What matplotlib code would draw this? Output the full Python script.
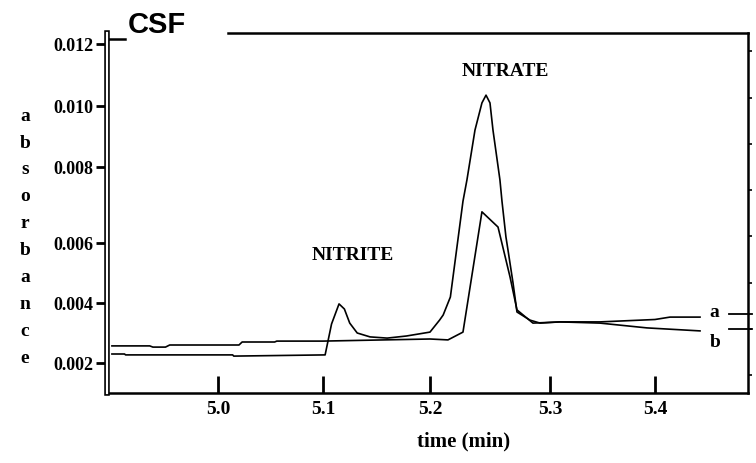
import numpy as np
import matplotlib
matplotlib.use("Agg")
import matplotlib.pyplot as plt

# trace a: nitrite peak + large nitrate peak
time_a = [4.899, 4.911, 4.912, 5.014, 5.015, 5.102, 5.108, 5.115, 5.120, 5.125,
          5.132, 5.144, 5.160, 5.178, 5.200, 5.208, 5.211, 5.217, 5.2275, 5.2308,
          5.2375, 5.2433, 5.2467, 5.250, 5.2525, 5.2583, 5.260, 5.2633, 5.265,
          5.2692, 5.2725, 5.2833, 5.2917, 5.3095, 5.3476, 5.400, 5.4143, 5.4429]
abs_a = [0.00230, 0.00230, 0.00227, 0.00227, 0.00223, 0.00227, 0.00330, 0.00397, 0.00380, 0.00333,
         0.00300, 0.00287, 0.00283, 0.00290, 0.00303, 0.00343, 0.00360, 0.00420, 0.00710, 0.00766,
         0.00921, 0.01010, 0.01035, 0.01010, 0.00921, 0.00766, 0.00710, 0.00616, 0.00577,
         0.00467, 0.00370, 0.00343, 0.00333, 0.00337, 0.00337, 0.00345, 0.00353, 0.00353]

# trace b: flat baseline + smaller nitrate peak
time_b = [4.899, 4.935, 4.938, 4.950, 4.954, 5.020, 5.023, 5.054, 5.056, 5.100,
          5.200, 5.215, 5.2275, 5.2433, 5.2567, 5.2667, 5.2725, 5.2858, 5.3095,
          5.3476, 5.3924, 5.4429]
abs_b = [0.00257, 0.00257, 0.00253, 0.00253, 0.00260, 0.00260, 0.00270, 0.00270, 0.00273, 0.00273,
         0.00280, 0.00277, 0.00303, 0.00682, 0.00642, 0.00487, 0.00377, 0.00333, 0.00337,
         0.00333, 0.00317, 0.00307]

right_marks = [0.00363, 0.00313]

y_ticks = [0.002, 0.004, 0.006, 0.008, 0.010, 0.012]
y_labels = ["0.002", "0.004", "0.006", "0.008", "0.010", "0.012"]
x_ticks = [5.0, 5.1, 5.2, 5.3, 5.4]
x_labels = ["5.0", "5.1", "5.2", "5.3", "5.4"]

# the printed axes are not evenly spaced, so use piecewise scales
y_knots = [0.0, 0.002, 0.004, 0.006, 0.008, 0.010, 0.012, 0.014]
y_place = [40, 100, 160, 220, 296, 357, 419, 481]
x_knots = [4.8, 5.0, 5.1, 5.2, 5.3, 5.4, 5.5]
x_place = [8, 218, 323, 430, 550, 655, 760]

serif = "Liberation Serif"

fig = plt.figure(figsize=(7.56, 4.63), dpi=100)
ax = fig.add_axes([107/756, 1 - 393/463, 641/756, 360/463])

ax.set_xscale("function", functions=(lambda v: np.interp(v, x_knots, x_place),
                                     lambda p: np.interp(p, x_place, x_knots)))
ax.set_yscale("function", functions=(lambda v: np.interp(v, y_knots, y_place),
                                     lambda p: np.interp(p, y_place, y_knots)))

ax.plot(time_a, abs_a, color="black", lw=1.2)
ax.plot(time_b, abs_b, color="black", lw=1.2)

ax.set_xlim(4.8943, 5.4886)
ax.set_ylim(0.001, 0.012355)

ax.set_xticks(x_ticks)
ax.set_xticklabels(x_labels, fontfamily=serif, fontweight="bold", fontsize=14)
ax.set_yticks(y_ticks)
ax.set_yticklabels(y_labels, fontfamily=serif, fontweight="bold", fontsize=13)
ax.minorticks_off()
ax.tick_params(axis="x", direction="in", length=12, width=2, pad=6)
ax.tick_params(axis="y", direction="out", length=8, width=2, pad=1.5)

for side in ["bottom", "right"]:
    ax.spines[side].set_linewidth(1.8)
ax.spines["left"].set_linewidth(4)
ax.spines["top"].set_visible(False)
ax.axvline(4.8943, color="white", lw=1.6, clip_on=False, zorder=5)

# broken top frame around the title
ax.plot([0, 0.028], [0.983, 0.983], color="black", lw=1.8, transform=ax.transAxes, clip_on=False)
ax.plot([0.189, 1.0], [1.0, 1.0], color="black", lw=1.8, transform=ax.transAxes, clip_on=False)

# small ticks on the right edge
ax2 = ax.twinx()
ax2.set_ylim(-0.39, 7.40)
ax2.set_yticks(range(8))
ax2.set_yticklabels([])
ax2.tick_params(axis="y", direction="out", length=3, width=1.2)
for side in ["left", "top", "bottom", "right"]:
    ax2.spines[side].set_visible(False)

for level in right_marks:
    ax.axhline(level, xmin=0.971, xmax=1.007, color="black", lw=1.3, clip_on=False)

ax.text(5.2625, 0.0111, "NITRATE", ha="center", va="center",
        fontfamily=serif, fontweight="bold", fontsize=14)
ax.text(5.128, 0.0056, "NITRITE", ha="center", va="center",
        fontfamily=serif, fontweight="bold", fontsize=14)
ax.text(5.452, 0.0037, "a", ha="left", va="center",
        fontfamily=serif, fontweight="bold", fontsize=14)
ax.text(5.452, 0.0027, "b", ha="left", va="center",
        fontfamily=serif, fontweight="bold", fontsize=14)

ax.set_xlabel("time (min)", fontfamily=serif, fontweight="bold", fontsize=15)
ax.xaxis.set_label_coords(0.557, -0.106)
ax.set_ylabel("\n".join("absorbance"), rotation=0, ha="center", va="center",
              fontfamily=serif, fontweight="bold", fontsize=14, linespacing=1.76)
ax.yaxis.set_label_coords(-0.128, 0.433)

fig.text(128/756, 1 - 33/463, "CSF", ha="left", va="baseline",
         fontfamily="Liberation Sans", fontweight="bold", fontsize=21)

fig.savefig("out.png", dpi=100)
